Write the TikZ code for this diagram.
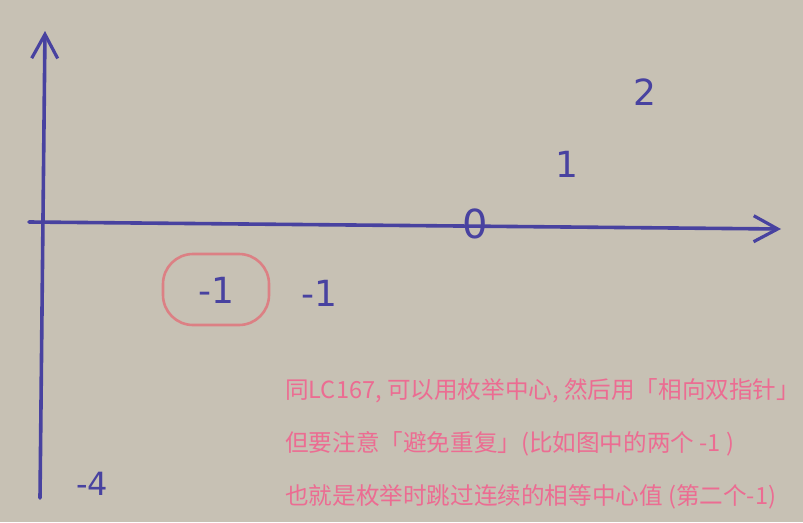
\documentclass[tikz,border=0pt]{standalone}
\usepackage{fontspec}
\newfontfamily\cjk{Noto Sans CJK SC}
\newfontfamily\hand{DejaVu Sans}
\usepackage{xcolor}
\usetikzlibrary{arrows.meta, shapes.geometric}
\definecolor{board}{RGB}{199,193,180}
\definecolor{ink}{RGB}{72,66,160}
\definecolor{marker}{RGB}{220,128,132}
\definecolor{note}{RGB}{236,108,146}
\tikzset{
  % Hand-drawn styles
  axis/.style={draw=ink, line width=3.6pt, line cap=round, -{Straight Barb[length=24pt, width=26pt, line width=3.2pt]}},
  digit/.style={text=ink, font=\hand\fontsize{36}{40}\selectfont, inner sep=0pt},
  ring/.style={draw=marker, line width=2.6pt, rounded corners=30pt},
  % Comment text styles
  remark/.style={text=note, font=\cjk\fontsize{23.6}{26}\selectfont, anchor=west, inner sep=0pt},
}
\begin{document}
\begin{tikzpicture}[x=1pt, y=-1pt]
    % Board
    \fill[board] (0,0) rectangle (803,522);
    \useasboundingbox (0,0) rectangle (803,522);

    % Axes
    \coordinate (ybot) at (40,498);
    \coordinate (ytop) at (45,31);
    \coordinate (xleft) at (29,222);
    \coordinate (xright) at (781,229);
    \draw[axis] (ybot) -- (ytop);
    \draw[axis] (xleft) -- (xright);

    % Values
    \node[digit, font=\hand\fontsize{40}{44}\selectfont] (zero) at (475,224) {0};
    \node[digit] (one) at (567,164) {1};
    \node[digit] (two) at (645,92) {2};
    \node[digit] (mone) at (216,290) {-1};
    \node[digit] (mtwo) at (319,293) {-1};
    \node[digit, font=\hand\fontsize{32}{36}\selectfont] (mfour) at (92,484) {-4};

    % Marked value
    \draw[ring] ([shift={(-53pt,-35pt)}]mone.center) rectangle ([shift={(53pt,36pt)}]mone.center);

    % Comments
    \node[remark] (line1) at (285,391) {同LC167, 可以用枚举中心, 然后用「相向双指针」};
    \node[remark] (line2) at (285,444) {但要注意「避免重复」(比如图中的两个 -1 )};
    \node[remark] (line3) at (285,497) {也就是枚举时跳过连续的相等中心值 (第二个-1)};
\end{tikzpicture}
\end{document}
